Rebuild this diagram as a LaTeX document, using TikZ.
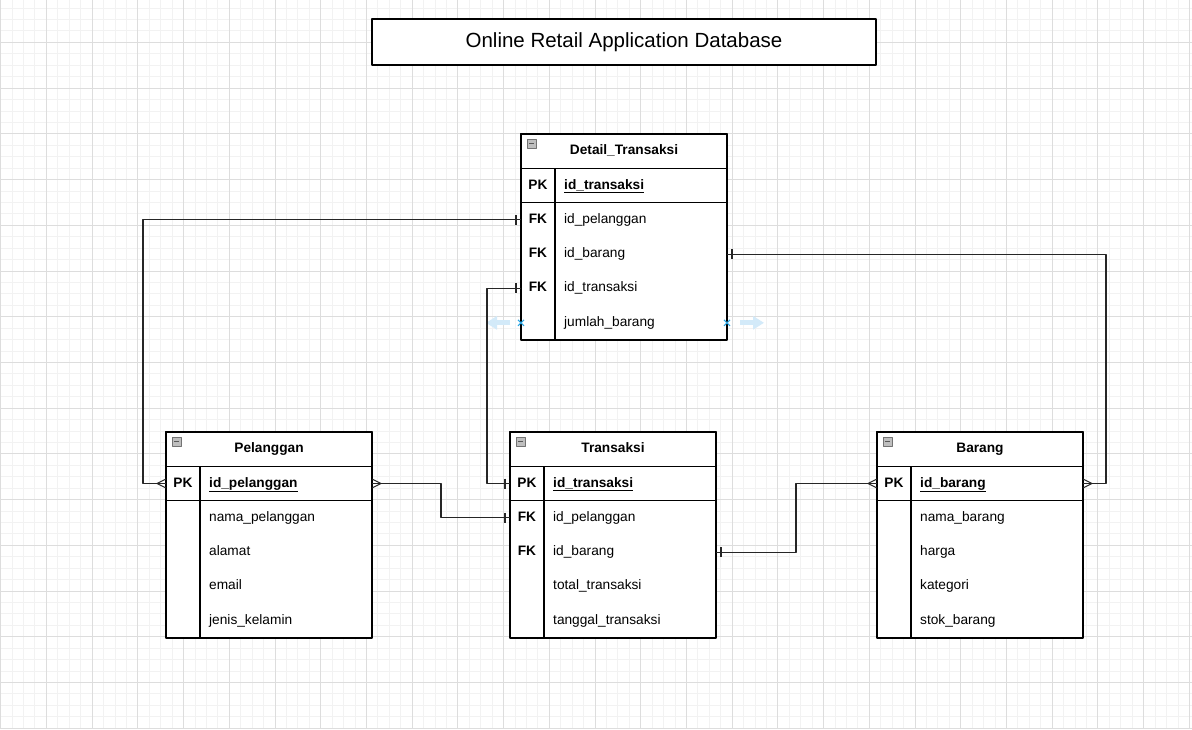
\documentclass[tikz,border=0pt]{standalone}
\usepackage{fontspec}
\setmainfont{Liberation Sans}
\usetikzlibrary{positioning,arrows.meta,shapes.misc}
\definecolor{gridlight}{HTML}{F2F2F2}
\definecolor{griddark}{HTML}{DDDDDD}
\definecolor{hintblue}{HTML}{D3EAF9}
\definecolor{handleblue}{HTML}{2AA5E3}

\tikzset{
  tblline/.style={draw=black,line width=1.2pt},
  tblhead/.style={tblline,fill=white,minimum width=206pt,minimum height=34.33pt,inner sep=0pt,outer sep=0pt,text height=10pt,text depth=3pt,font=\fontsize{13.7}{16}\selectfont\bfseries},
  tblrow/.style={fill=white,minimum width=206pt,minimum height=34.33pt,inner sep=0pt,outer sep=0pt},
  keytxt/.style={inner sep=0pt,text height=10pt,text depth=3pt,font=\fontsize{13.7}{16}\selectfont\bfseries},
  fieldtxt/.style={inner sep=0pt,anchor=west,text height=10pt,text depth=3pt,font=\fontsize{13.7}{16}\selectfont},
  erline/.style={draw=black!85,line width=1.1pt},
  one/.pic={\draw[erline] (-5,-5) -- (-5,5);},
  many/.pic={\draw[erline] (0,-4.5) -- (-9,0) -- (0,4.5);},
  hint/.style={draw=hintblue,line width=5pt,-{Triangle[length=11pt,width=13pt]}},
  handle/.style={cross out,draw=handleblue,line width=1pt,minimum size=5pt,inner sep=0pt}
}

\begin{document}
\begin{tikzpicture}[x=1pt,y=-1pt,line join=round]
    \fill[white] (0,0) rectangle (1192,729);
    \useasboundingbox (0,0) rectangle (1192,729);
    \begin{scope}
        \clip (0,0) rectangle (1192,729);
        \foreach \i in {0,...,104}{%
            \draw[gridlight,line width=0.8pt] ({0.6+\i*11.43},0) -- ++(0,729);
        }%
        \foreach \j in {0,...,64}{%
            \draw[gridlight,line width=0.8pt] (0,{-3.4+\j*11.43}) -- ++(1192,0);
        }%
        \foreach \i in {0,...,26}{%
            \draw[griddark,line width=0.8pt] ({0.6+\i*45.72},0) -- ++(0,729);
        }%
        \foreach \j in {0,...,16}{%
            \draw[griddark,line width=0.8pt] (0,{-3.4+\j*45.72}) -- ++(1192,0);
        }%
    \end{scope}

    \node[tblline,fill=white,minimum width=504pt,minimum height=46pt,font=\fontsize{20.5}{24}\selectfont] (title) at (624,42) {Online Retail Application Database};

    % tables
    \foreach \t/\x/\y/\title/\rows in {%
        dt/521/134/{Detail\_Transaksi}/{1/PK/\textbf{\underline{id\_transaksi}},2/FK/id\_pelanggan,3/FK/id\_barang,4/FK/id\_transaksi,5//jumlah\_barang},
        pel/166/432/Pelanggan/{1/PK/\textbf{\underline{id\_pelanggan}},2//nama\_pelanggan,3//alamat,4//email,5//jenis\_kelamin},
        trx/510/432/Transaksi/{1/PK/\textbf{\underline{id\_transaksi}},2/FK/id\_pelanggan,3/FK/id\_barang,4//total\_transaksi,5//tanggal\_transaksi},
        brg/877/432/Barang/{1/PK/\textbf{\underline{id\_barang}},2//nama\_barang,3//harga,4//kategori,5//stok\_barang}}{%
        \node[tblhead,anchor=north west] (\t-0) at (\x,\y) {\title};
        \foreach \i/\k/\f [remember=\i as \j (initially 0)] in \rows {%
            \node[tblrow,below=0pt of \t-\j] (\t-\i) {};
            \node[keytxt] at ([xshift=17pt]\t-\i.west) {\k};
            \node[fieldtxt] at ([xshift=43pt]\t-\i.west) {\f};
        }%
        \draw[tblline] (\t-0.north west) rectangle (\t-5.south east);
        \draw[tblline] (\t-0.south west) -- (\t-0.south east);
        \draw[tblline] ([xshift=34pt]\t-1.north west) -- ([xshift=34pt]\t-5.south west);
        \draw[tblline,line width=1.6pt] (\t-1.south west) -- (\t-1.south east);
        \draw[fill=black!25,draw=black!55,line width=0.8pt] ([shift={(6,5)}]\t-0.north west) rectangle ++(9,9);
        \draw[black!65,line width=1pt] ([shift={(8,9.5)}]\t-0.north west) -- ++(5,0);
    }%

    % hover handles
    \draw[hint] ([xshift=-11pt]dt-5.west) -- ++(-24,0);
    \draw[hint] ([xshift=13pt]dt-5.east) -- ++(24,0);
    \node[handle] at (dt-5.west) {};
    \node[handle] at (dt-5.east) {};

    % relations
    \draw[erline] (dt-2.west) -- ++(-378,0) |- (pel-1.west);
    \pic at (dt-2.west) {one};
    \pic at (pel-1.west) {many};
    \draw[erline] (dt-3.east) -- ++(379,0) |- (brg-1.east);
    \pic[xscale=-1] at (dt-3.east) {one};
    \pic[xscale=-1] at (brg-1.east) {many};
    \draw[erline] (dt-4.west) -- ++(-34,0) |- (trx-1.west);
    \pic at (dt-4.west) {one};
    \pic at (trx-1.west) {one};
    \draw[erline] (pel-1.east) -- ++(69,0) |- (trx-2.west);
    \pic[xscale=-1] at (pel-1.east) {many};
    \pic at (trx-2.west) {one};
    \draw[erline] (trx-3.east) -- ++(80,0) |- (brg-1.west);
    \pic[xscale=-1] at (trx-3.east) {one};
    \pic at (brg-1.west) {many};
\end{tikzpicture}
\end{document}
